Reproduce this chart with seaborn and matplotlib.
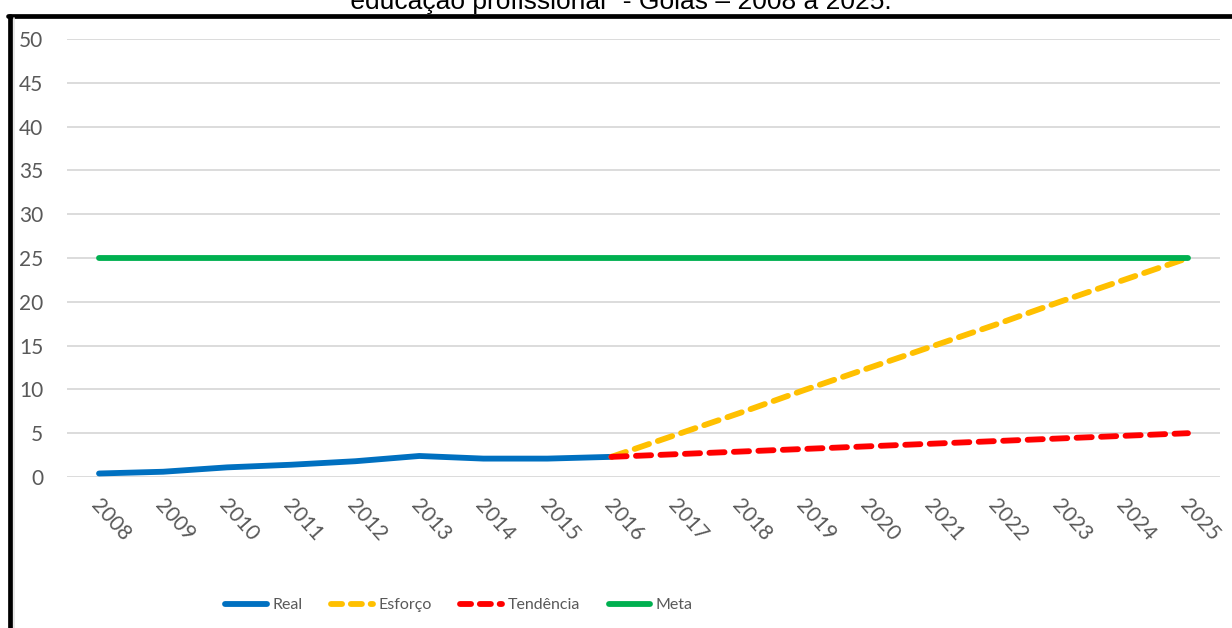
import matplotlib
matplotlib.use("Agg")
import matplotlib.pyplot as plt
from matplotlib.lines import Line2D
from matplotlib.transforms import ScaledTranslation
import seaborn as sns

# Percentual de matrículas na educação profissional - Goiás
years = list(range(2008, 2026))
real_years = list(range(2008, 2017))
real_values = [0.4, 0.6, 1.1, 1.4, 1.8, 2.4, 2.1, 2.1, 2.3]
proj_years = list(range(2016, 2026))
esforco_values = [2.3, 4.8, 7.3, 9.9, 12.4, 14.9, 17.4, 20.0, 22.5, 25.0]
tendencia_values = [2.3, 2.6, 2.9, 3.2, 3.5, 3.8, 4.1, 4.4, 4.7, 5.0]
meta_values = [25] * len(years)
y_ticks = list(range(0, 51, 5))
title_text = '"educação profissional" - Goiás – 2008 a 2025.'

sns.set_theme(style="white")
plt.rcParams["font.family"] = ["Lato", "DejaVu Sans"]

W, H = 1232, 628
fig = plt.figure(figsize=(W / 100, H / 100), dpi=100)
ax = fig.add_axes([67 / W, (H - 477) / H, (1220 - 67) / W, (477 - 39) / H])

grey_txt = "#595959"
lw = 4.2
dash = (0, (2.6, 1.6))

sns.lineplot(x=real_years, y=real_values, ax=ax, color="#0070C0", linewidth=lw,
             label="Real", solid_capstyle="round", zorder=3)
sns.lineplot(x=proj_years, y=esforco_values, ax=ax, color="#FFC000", linewidth=lw,
             label="Esforço", linestyle=dash, dash_capstyle="round", zorder=4)
sns.lineplot(x=proj_years, y=tendencia_values, ax=ax, color="#FF0000", linewidth=lw,
             label="Tendência", linestyle=dash, dash_capstyle="round", zorder=5)
sns.lineplot(x=years, y=meta_values, ax=ax, color="#00B050", linewidth=lw,
             label="Meta", solid_capstyle="round", zorder=6)

for ln in ax.lines:
    ln.set_clip_on(False)

ax.set_xlim(2007.5, 2025.5)
ax.set_ylim(0, 50)
ax.set_yticks(y_ticks)
ax.set_xticks(years)
ax.set_xticklabels([str(y) for y in years])
ax.set_xlabel("")
ax.set_ylabel("")
for s in ax.spines.values():
    s.set_visible(False)
ax.grid(axis="y", color="#D9D9D9", linewidth=1.3)
ax.grid(axis="x", visible=False)
ax.set_axisbelow(True)
ax.tick_params(axis="y", length=0, pad=17, labelsize=15, labelcolor=grey_txt)
ax.tick_params(axis="x", length=0, pad=13, labelsize=15, labelcolor=grey_txt)
for lab in ax.get_xticklabels():
    lab.set_rotation(-48)
    lab.set_ha("left")
    lab.set_va("top")
    lab.set_rotation_mode("anchor")
    lab.set_transform(lab.get_transform() + ScaledTranslation(3 / 100, 0, fig.dpi_scale_trans))

ax.get_legend().remove()
handles = [
    Line2D([], [], color="#0070C0", linewidth=lw, solid_capstyle="round"),
    Line2D([], [], color="#FFC000", linewidth=lw, linestyle=(0, (1.9, 1.5)), dash_capstyle="round"),
    Line2D([], [], color="#FF0000", linewidth=lw, linestyle=(0, (1.9, 1.5)), dash_capstyle="round"),
    Line2D([], [], color="#00B050", linewidth=lw, solid_capstyle="round"),
]
fig.legend(handles, ["Real", "Esforço", "Tendência", "Meta"], loc="center",
           bbox_to_anchor=(459 / W, (H - 605) / H), ncol=4, frameon=False,
           fontsize=11.5, labelcolor=grey_txt, handlelength=2.6,
           handletextpad=0.35, columnspacing=1.8)

# outer frame
fig.add_artist(Line2D([10 / W, 10 / W], [0, (H - 16) / H], color="black", linewidth=3.4,
                      transform=fig.transFigure))
fig.add_artist(Line2D([8 / W, 1.0], [(H - 16) / H, (H - 16) / H], color="black", linewidth=3.4,
                      transform=fig.transFigure))
fig.add_artist(Line2D([14 / W, 14 / W], [0, (H - 18) / H], color="#E4E4E4", linewidth=1.2,
                      transform=fig.transFigure))

fig.text(341 / W, (H - 9) / H, title_text, ha="left", va="baseline",
         fontsize=19, family=["Liberation Sans", "DejaVu Sans"], color="black")

fig.savefig("out.png", dpi=100)
